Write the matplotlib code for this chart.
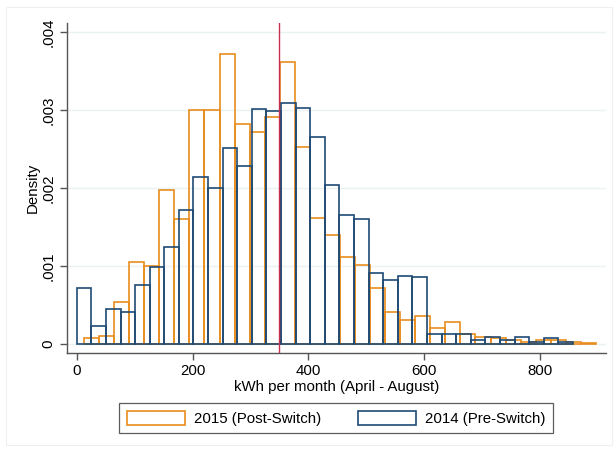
import numpy as np
import matplotlib
matplotlib.use("Agg")
import matplotlib.pyplot as plt
from matplotlib.patches import Patch, Rectangle

plt.rcParams['font.family'] = ['Liberation Sans', 'DejaVu Sans']

# ---- data (density values, x 1e-3) ----
pre_2014 = [0.72, 0.231, 0.44, 0.405, 0.75, 0.985, 1.245, 1.722, 2.146, 2.0,
            2.518, 2.278, 3.017, 2.983, 3.095, 3.026, 2.651, 2.039, 1.657, 1.606,
            0.908, 0.822, 0.869, 0.861, 0.128, 0.128, 0.128, 0.047, 0.086, 0.043,
            0.086, 0.017, 0.073, 0.017]
post_2015 = [0.077, 0.099, 0.54, 1.054, 0.998, 1.979, 1.606, 3.006, 2.998, 3.726,
             2.822, 2.72, 2.912, 3.615, 2.531, 1.619, 1.40, 1.118, 1.015, 0.711,
             0.411, 0.30, 0.351, 0.197, 0.274, 0.128, 0.086, 0.073, 0.043, 0.017,
             0.043, 0.043, 0.017, 0.012]
pre_start, pre_width = 0.0, 25.2
post_start, post_width = 12.6, 26.0
switch_kwh = 350
x_ticks = [0, 200, 400, 600, 800]
y_ticks = [0, 0.001, 0.002, 0.003, 0.004]
y_tick_labels = ["0", ".001", ".002", ".003", ".004"]
labels = ["2015 (Post-Switch)", "2014 (Pre-Switch)"]

orange = "#E98D1F"
navy = "#1F4A74"
red = "#C8304F"
grid_c = "#EAF2F3"

pre = np.array(pre_2014) * 1e-3
post = np.array(post_2015) * 1e-3
pre_edges = pre_start + pre_width * np.arange(len(pre) + 1)
post_edges = post_start + post_width * np.arange(len(post) + 1)

fs = 10.8

fig = plt.figure(figsize=(6.15, 4.5), dpi=100)
fig.patches.append(Rectangle((6 / 615, 5 / 450), 606 / 615, 438 / 450,
                             transform=fig.transFigure, fill=False,
                             edgecolor="#EFEFEF", linewidth=0.8))
ax = fig.add_axes([0.1085, 0.2149, 0.8765, 0.7341])

for y in y_ticks:
    ax.axhline(y, color=grid_c, linewidth=1.0, zorder=0)

ax.bar(post_edges[:-1], post, width=np.diff(post_edges), align="edge",
       fill=False, edgecolor=orange, linewidth=1.2, zorder=2)
ax.bar(pre_edges[:-1], pre, width=np.diff(pre_edges), align="edge",
       fill=False, edgecolor=navy, linewidth=1.2, zorder=3)
ax.axvline(switch_kwh, color=red, linewidth=1.0, zorder=4)

ax.set_xlim(-17.3, 913.6)
ax.set_ylim(-0.000123, 0.00412)
ax.set_xticks(x_ticks)
ax.set_xticklabels([str(v) for v in x_ticks])
ax.set_yticks(y_ticks)
ax.set_yticklabels(y_tick_labels, rotation=90, va="center")

for s in ["top", "right"]:
    ax.spines[s].set_visible(False)
for s in ["left", "bottom"]:
    ax.spines[s].set_color("#555555")
    ax.spines[s].set_linewidth(1.0)
ax.tick_params(axis="both", direction="out", length=5, width=1.0,
               color="#555555", labelsize=fs, pad=3)

ax.set_xlabel("kWh per month (April - August)", fontsize=fs, labelpad=1)
ax.set_ylabel("Density", fontsize=fs, labelpad=1)

handles = [Patch(facecolor="white", edgecolor=orange, linewidth=1.2),
           Patch(facecolor="white", edgecolor=navy, linewidth=1.2)]
leg = fig.legend(handles, labels, loc="center", ncol=2,
                 bbox_to_anchor=(0.5467, 0.0704), fontsize=fs,
                 frameon=True, fancybox=False, edgecolor="#333333",
                 handlelength=3.9, handleheight=1.1, handletextpad=0.6,
                 columnspacing=2.4, borderpad=0.5)
leg.get_frame().set_linewidth(0.9)

fig.savefig("out.png", dpi=100)
